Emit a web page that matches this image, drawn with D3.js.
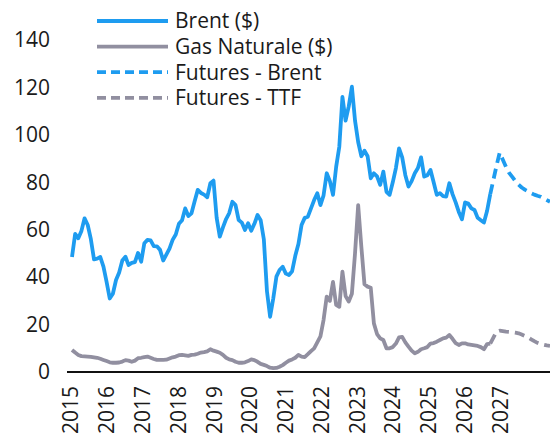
<!DOCTYPE html>
<html>
<head>
<meta charset="utf-8">
<script src="https://cdn.jsdelivr.net/npm/d3@7"></script>
<style>
  body { margin: 0; background: #fff; }
  svg { display: block; font-family: "Open Sans", sans-serif; }
</style>
</head>
<body>
<svg id="chart" width="550" height="437"></svg>
<script>
// year labels on the category axis
const years = ['2015', '2016', '2017', '2018', '2019', '2020', '2021',
  '2022', '2023', '2024', '2025', '2026', '2027'];

// monthly values from Jan 2015
const brent = [
  48.5, 58.2, 56.4, 59.5, 64.8, 62, 56, 47.5, 47.8, 48.5, 44.4, 38,
  31, 33, 38.8, 42, 47, 48.6, 45.1, 46, 46.3, 50.2, 46.5, 54.3,
  55.7, 55.5, 53.1, 53, 51.5, 47, 49.5, 52, 55.7, 58, 62.5, 64,
  69, 65.8, 66.9, 72, 76.8, 75.5, 74.8, 73.7, 79.6, 80.7, 65, 57.1,
  61, 64.5, 67, 71.8, 70.4, 64.1, 63, 59.9, 62.7, 59.6, 62.5, 66.2,
  64, 56, 34, 23.3, 31, 40.2, 43, 44.4, 41.5, 40.9, 42.5, 49,
  54, 62, 65, 65.5, 69, 72.5, 75.4, 70.4, 74.5, 83.8, 80.5, 74.7,
  86.5, 95, 116, 106, 112, 120.3, 106, 97, 91, 93.3, 91, 81.7,
  83.8, 82.5, 78.9, 84.5, 76, 74.7, 80, 86, 94.3, 90.5, 83, 78.2,
  80.5, 83.8, 86, 90.5, 82.4, 83, 85.2, 80, 74.7, 75.4, 74.2, 74,
  79.6, 75, 71.5, 67.5, 64.4, 71.5, 71, 69, 68.3, 65, 64, 63,
  68, 75
];

const gas = [
  9.3, 8.2, 7.2, 6.7, 6.6, 6.5, 6.4, 6.2, 6, 5.6, 5.1, 4.6,
  4.1, 3.9, 3.9, 4, 4.4, 5, 4.8, 4.3, 4.8, 5.8, 6, 6.3,
  6.5, 6, 5.5, 5.1, 5.1, 5.1, 5.2, 5.7, 6.2, 6.5, 7.1, 7.2,
  7, 6.8, 7.2, 7.3, 7.7, 8.2, 8.4, 8.7, 9.6, 9, 8.6, 8.1,
  7.2, 6, 5.3, 5, 4.3, 3.9, 3.9, 4.1, 4.6, 5.3, 5, 4.3,
  3.4, 3, 2.5, 1.8, 1.6, 1.7, 2.2, 2.9, 3.9, 4.8, 5.3, 6,
  7.2, 6.5, 6.3, 7.5, 8.8, 10, 12.5, 15, 22, 31.8, 30, 38,
  28.3, 27.5, 42.3, 32, 29.7, 33, 50, 70.4, 53, 37, 36, 35.5,
  20.5, 16, 14.2, 13.5, 10, 10, 10.5, 12, 14.6, 14.8, 12.5, 10.7,
  9, 7.9, 8.5, 9.6, 10, 10.5, 12, 12.2, 12.8, 13.5, 14.2, 14.5,
  15.6, 14, 12.2, 11.4, 12.1, 12.1, 11.6, 11.4, 11.2, 11, 10.5, 9.6,
  11.8, 12
];

// futures curves, starting at the last historical month
const futuresStart = 133;
const brentFutures = [75, 81, 87, 92.5, 89.5, 86.5, 84, 82.3, 80.5, 79, 77.8,
  76.9, 76.2, 75.4, 74.8, 74.3, 73.9, 73.2, 72.5, 71.8];
const ttfFutures = [12, 14.5, 17, 17.4, 17.2, 17, 16.9, 16.8, 16.6, 16.3, 15.8,
  15.2, 14.6, 13.8, 13, 12.3, 11.8, 11.5, 11.2, 11];

const seriesNames = ['Brent ($)', 'Gas Naturale ($)', 'Futures - Brent', 'Futures - TTF'];
const yTicks = [0, 20, 40, 60, 80, 100, 120, 140];

const width = 550;
const blue = '#1e9cf0';
const grey = '#918fa0';
const fontSize = 21;

const svg = d3.select('#chart');

const lastMonth = futuresStart + brentFutures.length - 1;
const x = d3.scaleLinear().domain([0, lastMonth]).range([72, 550]);
const y = d3.scaleLinear().domain([0, 140]).range([372, 40]);
const xLabels = d3.scalePoint().domain(years).range([70.5, 500]);

// y axis labels
const yAxis = svg.append('g')
  .attr('transform', 'translate(50,0)')
  .call(d3.axisLeft(y).tickValues(yTicks).tickSize(0).tickPadding(0));
yAxis.select('.domain').remove();
yAxis.selectAll('text')
  .attr('font-family', '"Open Sans", sans-serif')
  .attr('font-size', fontSize)
  .attr('fill', '#1a1a1a');

// x axis labels, rotated
const xAxis = svg.append('g')
  .attr('transform', 'translate(0,386)')
  .call(d3.axisBottom(xLabels).tickSize(0).tickPadding(0));
xAxis.select('.domain').remove();
xAxis.selectAll('text')
  .attr('font-family', '"Open Sans", sans-serif')
  .attr('font-size', fontSize)
  .attr('fill', '#1a1a1a')
  .attr('transform', 'rotate(-90)')
  .attr('text-anchor', 'end')
  .attr('x', 0)
  .attr('y', 0)
  .attr('dy', '0.35em');

// base line
svg.append('line')
  .attr('x1', x(0) - 5).attr('x2', width)
  .attr('y1', y(0)).attr('y2', y(0))
  .attr('stroke', '#111')
  .attr('stroke-width', 1.8);

const line = d3.line()
  .x((d, i) => x(i))
  .y((d) => y(d));

const futLine = d3.line()
  .x((d, i) => x(futuresStart + i))
  .y((d) => y(d));

const series = [
  { data: gas, gen: line, color: grey, dash: null },
  { data: ttfFutures, gen: futLine, color: grey, dash: '10,6' },
  { data: brent, gen: line, color: blue, dash: null },
  { data: brentFutures, gen: futLine, color: blue, dash: '10,6' },
];

svg.selectAll('path.series')
  .data(series)
  .join('path')
  .attr('class', 'series')
  .attr('d', (s) => s.gen(s.data))
  .attr('fill', 'none')
  .attr('stroke', (s) => s.color)
  .attr('stroke-width', 3.8)
  .attr('stroke-linejoin', 'round')
  .attr('stroke-dasharray', (s) => s.dash);

// legend
const legendItems = [
  { name: seriesNames[0], color: blue, dash: null },
  { name: seriesNames[1], color: grey, dash: null },
  { name: seriesNames[2], color: blue, dash: '9,5' },
  { name: seriesNames[3], color: grey, dash: '9,5' },
];

const legend = svg.append('g')
  .selectAll('g')
  .data(legendItems)
  .join('g')
  .attr('transform', (d, i) => `translate(97,${21 + i * 25.6})`);

legend.append('line')
  .attr('x1', 0).attr('x2', 71)
  .attr('stroke', (d) => d.color)
  .attr('stroke-width', 3.8)
  .attr('stroke-dasharray', (d) => d.dash);

legend.append('text')
  .attr('x', 78)
  .attr('dy', '0.35em')
  .attr('font-size', fontSize)
  .attr('fill', '#1a1a1a')
  .text((d) => d.name);
</script>
</body>
</html>
